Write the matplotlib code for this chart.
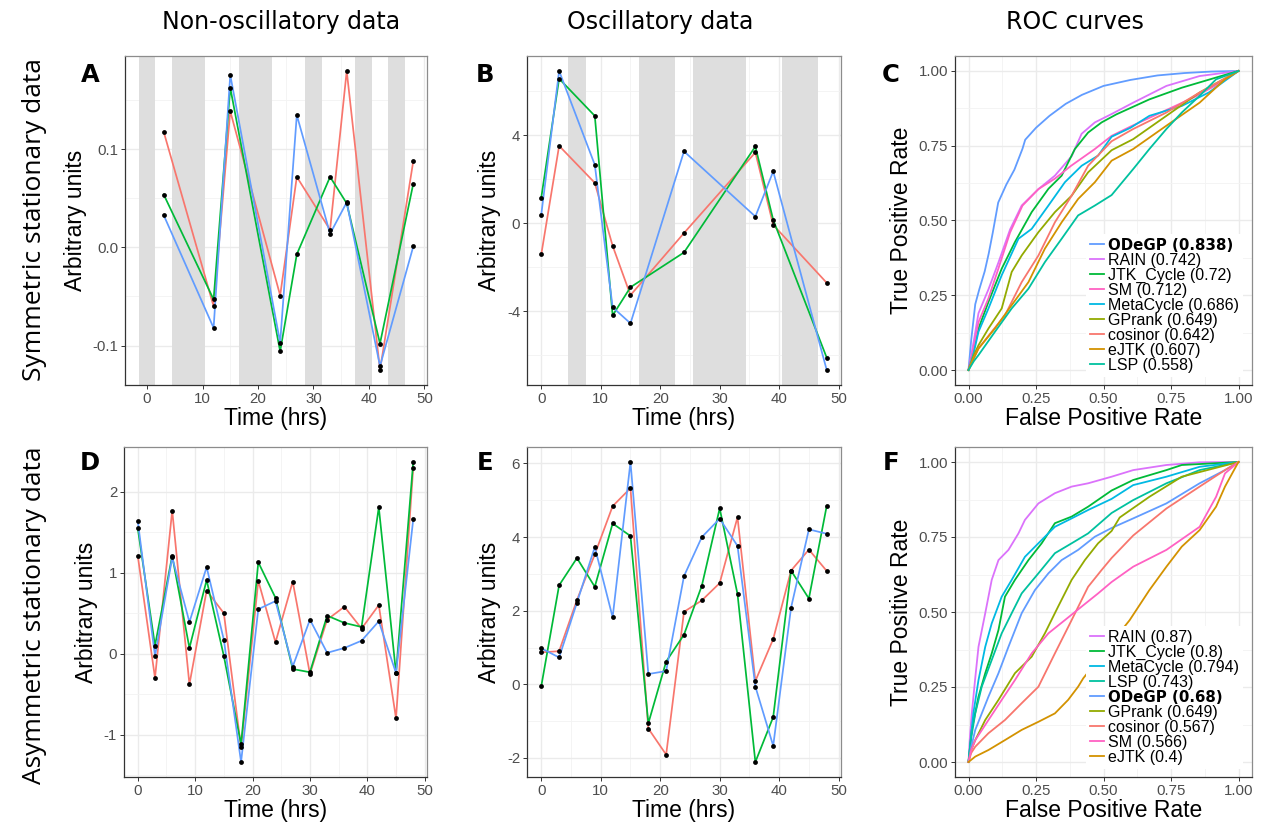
import matplotlib.pyplot as plt
from matplotlib.ticker import FormatStrFormatter

plt.rcParams['font.family'] = ['Liberation Sans', 'DejaVu Sans']
plt.rcParams['axes.unicode_minus'] = False

W, H = 1262, 823

RED, GREEN, BLUE = '#F8766D', '#00BA38', '#619CFF'
SHADE = '#DEDEDE'

# ---------------- time-course panels ----------------
times_A = [3, 12, 15, 24, 27, 33, 36, 42, 48]
A_red = [0.118, -0.060, 0.139, -0.049, 0.072, 0.018, 0.180, -0.125, 0.088]
A_green = [0.054, -0.053, 0.163, -0.106, -0.007, 0.072, 0.045, -0.098, 0.065]
A_blue = [0.033, -0.082, 0.176, -0.097, 0.135, 0.014, 0.046, -0.121, 0.001]
A_dark = [(-1.5, 1.5), (4.5, 10.5), (16.5, 22.5), (28.5, 31.5), (37.5, 40.5), (43.5, 46.5)]

times_B = [0, 3, 9, 12, 15, 24, 36, 39, 48]
B_red = [-1.42, 3.51, 1.83, -1.03, -3.27, -0.45, 3.21, -0.08, -2.71]
B_green = [1.16, 6.56, 4.87, -4.19, -2.91, -1.33, 3.48, 0.15, -6.11]
B_blue = [0.39, 6.91, 2.65, -3.82, -4.55, 3.26, 0.30, 2.35, -6.67]
B_dark = [(4.5, 7.5), (16.5, 22.5), (25.5, 34.5), (40.5, 46.5)]

times_DE = [0, 3, 6, 9, 12, 15, 18, 21, 24, 27, 30, 33, 36, 39, 42, 45, 48]
D_red = [1.21, -0.30, 1.77, -0.38, 0.78, 0.50, -1.16, 0.90, 0.14, 0.89, -0.25, 0.42, 0.58, 0.31, 0.60, -0.80, 2.30]
D_green = [1.55, 0.10, 1.21, 0.07, 0.91, -0.03, -1.12, 1.13, 0.69, -0.19, -0.23, 0.47, 0.38, 0.33, 1.81, -0.24, 2.37]
D_blue = [1.64, -0.03, 1.19, 0.39, 1.07, 0.17, -1.34, 0.55, 0.65, -0.16, 0.42, 0.01, 0.07, 0.16, 0.40, -0.24, 1.66]

E_red = [0.87, 0.90, 2.29, 3.53, 4.84, 5.33, -1.20, -1.91, 1.97, 2.28, 2.75, 4.54, 0.09, 1.23, 3.09, 3.66, 3.08]
E_green = [-0.05, 2.69, 3.43, 2.65, 4.37, 4.03, -1.06, 0.62, 1.35, 2.68, 4.78, 2.45, -2.11, -0.89, 3.09, 2.33, 4.85]
E_blue = [0.98, 0.73, 2.22, 3.73, 1.82, 6.04, 0.28, 0.36, 2.94, 4.00, 4.50, 3.76, -0.06, -1.67, 2.08, 4.21, 4.09]

# ---------------- ROC curves ----------------
method_colors = {
    'cosinor': '#F8766D', 'eJTK': '#D39200', 'GPrank': '#93AA00',
    'JTK_Cycle': '#00BA38', 'LSP': '#00C19F', 'MetaCycle': '#00B9E3',
    'ODeGP': '#619CFF', 'RAIN': '#DB72FB', 'SM': '#FF61C3',
}

# symmetric stationary data
C_order = ['ODeGP', 'RAIN', 'JTK_Cycle', 'SM', 'MetaCycle', 'GPrank', 'cosinor', 'eJTK', 'LSP']
C_auc = ['0.838', '0.742', '0.72', '0.712', '0.686', '0.649', '0.642', '0.607', '0.558']
C_fpr = {
    'ODeGP': [0, 0.01, 0.025, 0.04, 0.06, 0.075, 0.09, 0.11, 0.14, 0.17, 0.2, 0.21, 0.25, 0.3, 0.36, 0.42, 0.5, 0.6, 0.7, 0.8, 0.9, 1.0],
    'RAIN': [0, 0.02, 0.037, 0.074, 0.111, 0.154, 0.197, 0.259, 0.32, 0.382, 0.419, 0.468, 0.53, 0.61, 0.733, 0.856, 1.0],
    'JTK_Cycle': [0, 0.02, 0.037, 0.074, 0.123, 0.172, 0.234, 0.296, 0.345, 0.394, 0.443, 0.493, 0.548, 0.67, 0.79, 0.917, 1.0],
    'SM': [0, 0.02, 0.037, 0.074, 0.111, 0.154, 0.2, 0.259, 0.32, 0.38, 0.468, 0.53, 0.6, 0.72, 0.84, 0.94, 1.0],
    'MetaCycle': [0, 0.02, 0.037, 0.074, 0.123, 0.185, 0.234, 0.296, 0.357, 0.419, 0.48, 0.53, 0.6, 0.67, 0.79, 0.89, 1.0],
    'GPrank': [0, 0.02, 0.037, 0.074, 0.123, 0.16, 0.197, 0.259, 0.32, 0.382, 0.443, 0.53, 0.61, 0.733, 0.856, 1.0],
    'cosinor': [0, 0.02, 0.037, 0.086, 0.135, 0.197, 0.259, 0.32, 0.382, 0.443, 0.53, 0.61, 0.733, 0.856, 1.0],
    'eJTK': [0, 0.02, 0.037, 0.098, 0.16, 0.222, 0.283, 0.345, 0.406, 0.468, 0.53, 0.61, 0.733, 0.856, 0.95, 1.0],
    'LSP': [0, 0.02, 0.037, 0.098, 0.16, 0.222, 0.283, 0.345, 0.406, 0.468, 0.53, 0.61, 0.67, 0.733, 0.79, 0.856, 0.917, 1.0],
}
C_tpr = {
    'ODeGP': [0, 0.1, 0.22, 0.27, 0.33, 0.39, 0.46, 0.56, 0.62, 0.67, 0.74, 0.77, 0.81, 0.85, 0.89, 0.92, 0.95, 0.97, 0.985, 0.993, 0.998, 1.0],
    'RAIN': [0, 0.1, 0.19, 0.27, 0.36, 0.47, 0.55, 0.605, 0.65, 0.715, 0.79, 0.828, 0.856, 0.894, 0.95, 0.983, 1.0],
    'JTK_Cycle': [0, 0.07, 0.139, 0.228, 0.339, 0.428, 0.528, 0.606, 0.65, 0.739, 0.794, 0.828, 0.855, 0.905, 0.944, 0.978, 1.0],
    'SM': [0, 0.08, 0.16, 0.24, 0.34, 0.46, 0.55, 0.605, 0.64, 0.683, 0.739, 0.783, 0.814, 0.864, 0.914, 0.964, 1.0],
    'MetaCycle': [0, 0.06, 0.128, 0.206, 0.317, 0.439, 0.472, 0.55, 0.628, 0.683, 0.717, 0.78, 0.81, 0.85, 0.883, 0.928, 1.0],
    'GPrank': [0, 0.05, 0.083, 0.139, 0.206, 0.328, 0.383, 0.461, 0.528, 0.583, 0.661, 0.735, 0.772, 0.85, 0.928, 1.0],
    'cosinor': [0, 0.04, 0.072, 0.128, 0.183, 0.294, 0.383, 0.494, 0.583, 0.683, 0.765, 0.806, 0.861, 0.928, 1.0],
    'eJTK': [0, 0.04, 0.072, 0.139, 0.217, 0.294, 0.406, 0.494, 0.572, 0.628, 0.70, 0.739, 0.817, 0.894, 0.972, 1.0],
    'LSP': [0, 0.03, 0.05, 0.128, 0.206, 0.272, 0.361, 0.439, 0.517, 0.55, 0.585, 0.672, 0.739, 0.806, 0.861, 0.917, 0.972, 1.0],
}

# asymmetric stationary data
F_order = ['RAIN', 'JTK_Cycle', 'MetaCycle', 'LSP', 'ODeGP', 'GPrank', 'cosinor', 'SM', 'eJTK']
F_auc = ['0.87', '0.8', '0.794', '0.743', '0.68', '0.649', '0.567', '0.566', '0.4']
F_fpr = {
    'RAIN': [0, 0.005, 0.012, 0.025, 0.037, 0.062, 0.086, 0.111, 0.148, 0.185, 0.209, 0.259, 0.32, 0.382, 0.443, 0.53, 0.61, 0.733, 0.856, 1.0],
    'JTK_Cycle': [0, 0.012, 0.037, 0.062, 0.086, 0.111, 0.135, 0.172, 0.222, 0.271, 0.32, 0.382, 0.443, 0.53, 0.61, 0.733, 0.79, 1.0],
    'MetaCycle': [0, 0.018, 0.037, 0.062, 0.086, 0.123, 0.16, 0.209, 0.271, 0.32, 0.382, 0.443, 0.53, 0.61, 0.733, 0.856, 1.0],
    'LSP': [0, 0.01, 0.025, 0.049, 0.086, 0.123, 0.16, 0.197, 0.259, 0.32, 0.382, 0.443, 0.53, 0.61, 0.733, 0.856, 1.0],
    'ODeGP': [0, 0.01, 0.025, 0.074, 0.111, 0.148, 0.197, 0.246, 0.296, 0.345, 0.406, 0.468, 0.53, 0.61, 0.733, 0.856, 0.95, 1.0],
    'GPrank': [0, 0.01, 0.025, 0.062, 0.111, 0.172, 0.234, 0.283, 0.332, 0.382, 0.431, 0.48, 0.53, 0.56, 0.67, 0.79, 1.0],
    'cosinor': [0, 0.01, 0.025, 0.074, 0.135, 0.197, 0.259, 0.32, 0.382, 0.443, 0.493, 0.53, 0.61, 0.733, 0.856, 0.95, 1.0],
    'SM': [0, 0.01, 0.025, 0.074, 0.123, 0.172, 0.234, 0.296, 0.357, 0.419, 0.48, 0.53, 0.61, 0.733, 0.856, 0.917, 0.95, 1.0],
    'eJTK': [0, 0.025, 0.074, 0.135, 0.197, 0.259, 0.32, 0.369, 0.406, 0.425, 0.597, 0.67, 0.733, 0.79, 0.856, 0.917, 0.95, 0.99, 1.0],
}
F_tpr = {
    'RAIN': [0, 0.08, 0.16, 0.28, 0.384, 0.496, 0.607, 0.673, 0.707, 0.762, 0.807, 0.862, 0.896, 0.918, 0.929, 0.951, 0.973, 0.99, 0.999, 1.0],
    'JTK_Cycle': [0, 0.107, 0.218, 0.296, 0.362, 0.44, 0.551, 0.607, 0.673, 0.729, 0.796, 0.818, 0.851, 0.905, 0.94, 0.973, 0.99, 1.0],
    'MetaCycle': [0, 0.162, 0.273, 0.384, 0.462, 0.551, 0.607, 0.684, 0.74, 0.784, 0.812, 0.84, 0.877, 0.923, 0.951, 0.984, 1.0],
    'LSP': [0, 0.08, 0.162, 0.251, 0.34, 0.429, 0.496, 0.562, 0.629, 0.696, 0.729, 0.762, 0.83, 0.873, 0.929, 0.973, 1.0],
    'ODeGP': [0, 0.05, 0.107, 0.218, 0.296, 0.384, 0.496, 0.573, 0.629, 0.673, 0.707, 0.751, 0.78, 0.812, 0.862, 0.929, 0.973, 1.0],
    'GPrank': [0, 0.04, 0.073, 0.14, 0.207, 0.296, 0.351, 0.429, 0.518, 0.607, 0.673, 0.729, 0.77, 0.815, 0.884, 0.951, 1.0],
    'cosinor': [0, 0.03, 0.051, 0.096, 0.14, 0.196, 0.251, 0.362, 0.473, 0.584, 0.64, 0.68, 0.755, 0.845, 0.918, 0.973, 1.0],
    'SM': [0, 0.04, 0.073, 0.14, 0.207, 0.273, 0.362, 0.429, 0.473, 0.518, 0.562, 0.6, 0.651, 0.707, 0.784, 0.884, 0.962, 1.0],
    'eJTK': [0, 0.018, 0.04, 0.073, 0.107, 0.134, 0.162, 0.207, 0.251, 0.279, 0.473, 0.573, 0.651, 0.718, 0.773, 0.851, 0.918, 0.984, 1.0],
}


def add_axes_px(fig, left, top, right, bottom):
    return fig.add_axes([left / W, 1 - bottom / H, (right - left) / W, (bottom - top) / H])


def gg_style(ax, xmajor, xminor, ymajor, yminor):
    ax.set_xticks(xmajor)
    ax.set_xticks(xminor, minor=True)
    ax.set_yticks(ymajor)
    ax.set_yticks(yminor, minor=True)
    ax.set_axisbelow(True)
    ax.grid(which='major', color='#EBEBEB', lw=1.0)
    ax.grid(which='minor', color='#F3F3F3', lw=0.6)
    ax.tick_params(which='minor', length=0)
    ax.tick_params(which='major', length=2.75, width=0.7, color='#333333',
                   labelcolor='#4D4D4D', labelsize=10.8, pad=2.2)
    for side in ['left', 'bottom']:
        ax.spines[side].set_color('#333333')
        ax.spines[side].set_linewidth(0.9)
    for side in ['top', 'right']:
        ax.spines[side].set_color('#8C8C8C')
        ax.spines[side].set_linewidth(0.9)


def expand(lo, hi, frac=0.05):
    pad = (hi - lo) * frac
    return lo - pad, hi + pad


def time_panel(ax, t, series, dark=()):
    for a, b in dark:
        ax.axvspan(a, b, color=SHADE, lw=0, zorder=1)
    for vals, col in series:
        ax.plot(t, vals, color=col, lw=1.25, zorder=3)
    for vals, col in series:
        ax.scatter(t, vals, s=12, color='black', zorder=4, lw=0)
    xs = list(t) + [v for ab in dark for v in ab]
    ys = [v for vals, _ in series for v in vals]
    ax.set_xlim(*expand(min(xs), max(xs)))
    ax.set_ylim(*expand(min(ys), max(ys)))
    ax.set_xlabel('Time (hrs)', fontsize=16.5, labelpad=1)
    ax.set_ylabel('Arbitrary units', fontsize=16.5, labelpad=4)


def roc_panel(ax, order, aucs, fpr, tpr):
    for name, auc in zip(order, aucs):
        ax.plot(fpr[name], tpr[name], color=method_colors[name], lw=1.3,
                label=f'{name} ({auc})')
    ax.set_xlim(-0.05, 1.05)
    ax.set_ylim(-0.05, 1.05)
    ax.xaxis.set_major_formatter(FormatStrFormatter('%.2f'))
    ax.yaxis.set_major_formatter(FormatStrFormatter('%.2f'))
    ax.set_xlabel('False Positive Rate', fontsize=16.5, labelpad=1)
    ax.set_ylabel('True Positive Rate', fontsize=16.5, labelpad=4)
    leg = ax.legend(loc='lower left', bbox_to_anchor=(0.44, 0.025), frameon=True,
                    framealpha=1, facecolor='white', edgecolor='none', fancybox=False,
                    borderpad=0.25, labelspacing=0.0, handlelength=0.9,
                    handletextpad=0.25, borderaxespad=0,
                    prop={'family': 'Liberation Sans', 'size': 11.5})
    leg.set_zorder(5)
    for txt in leg.get_texts():
        if txt.get_text().startswith('ODeGP'):
            txt.set_fontweight('bold')
            txt.set_fontfamily('DejaVu Sans')
            txt.set_fontsize(10.8)


fig = plt.figure(figsize=(W / 100, H / 100), dpi=100)

tick50 = [0, 10, 20, 30, 40, 50]
minor50 = [5, 15, 25, 35, 45]
roc_major = [0, 0.25, 0.5, 0.75, 1.0]
roc_minor = [0.125, 0.375, 0.625, 0.875]

axA = add_axes_px(fig, 125, 56, 427, 385)
time_panel(axA, times_A, [(A_red, RED), (A_green, GREEN), (A_blue, BLUE)], A_dark)
gg_style(axA, tick50, minor50, [-0.1, 0.0, 0.1], [-0.05, 0.05, 0.15])
axA.yaxis.set_major_formatter(FormatStrFormatter('%.1f'))

axB = add_axes_px(fig, 527, 56, 841, 385)
time_panel(axB, times_B, [(B_red, RED), (B_green, GREEN), (B_blue, BLUE)], B_dark)
gg_style(axB, tick50, minor50, [-4, 0, 4], [-6, -2, 2, 6])

axC = add_axes_px(fig, 955, 56, 1252, 385)
roc_panel(axC, C_order, C_auc, C_fpr, C_tpr)
gg_style(axC, roc_major, roc_minor, roc_major, roc_minor)

axD = add_axes_px(fig, 124, 447, 427, 777)
time_panel(axD, times_DE, [(D_red, RED), (D_green, GREEN), (D_blue, BLUE)])
gg_style(axD, tick50, minor50, [-1, 0, 1, 2], [-1.5, -0.5, 0.5, 1.5])

axE = add_axes_px(fig, 527, 447, 841, 777)
time_panel(axE, times_DE, [(E_red, RED), (E_green, GREEN), (E_blue, BLUE)])
gg_style(axE, tick50, minor50, [-2, 0, 2, 4, 6], [-1, 1, 3, 5])

axF = add_axes_px(fig, 955, 447, 1252, 777)
roc_panel(axF, F_order, F_auc, F_fpr, F_tpr)
gg_style(axF, roc_major, roc_minor, roc_major, roc_minor)

# panel letters
for letter, x, y in [('A', 90, 75), ('B', 485, 75), ('C', 891, 75),
                     ('D', 90, 463), ('E', 485, 463), ('F', 891, 463)]:
    fig.text(x / W, 1 - y / H, letter, ha='center', va='center', fontsize=17.5,
             fontweight='bold', family='DejaVu Sans')

# column and row headings
for label, x in [('Non-oscillatory data', 281), ('Oscillatory data', 660), ('ROC curves', 1075)]:
    fig.text(x / W, 1 - 22 / H, label, ha='center', va='center', fontsize=17,
             family='DejaVu Sans')
for label, y in [('Symmetric stationary data', 220), ('Asymmetric stationary data', 615)]:
    fig.text(35 / W, 1 - y / H, label, ha='center', va='center', rotation=90,
             fontsize=19, family='Open Sans')

fig.savefig('out.png', dpi=100, facecolor='white')
